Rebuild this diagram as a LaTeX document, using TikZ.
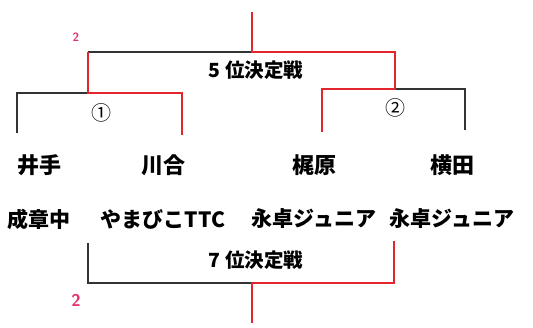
\documentclass[tikz,border=0pt]{standalone}
\usepackage{fontspec}
\newfontfamily\cjk{Noto Sans CJK JP}
\definecolor{winred}{HTML}{E3262E}
\definecolor{seedpink}{HTML}{E0356B}
\definecolor{loseblk}{HTML}{333333}
\tikzset{
  lose/.style={draw=loseblk, line width=1.6pt},
  win/.style={draw=winred, line width=2.4pt},
  player/.style={font=\cjk\bfseries\fontsize{22}{22}\selectfont},
  club/.style={font=\cjk\bfseries\fontsize{21}{21}\selectfont},
  round/.style={font=\cjk\bfseries\fontsize{19.5}{20}\selectfont},
  seed/.style={font=\sffamily\bfseries, text=seedpink}
}

\begin{document}
\begin{tikzpicture}[x=1pt,y=-1pt]
            \useasboundingbox (0,0) rectangle (533,327);

            % players and clubs
            \foreach \n/\nm/\tm/\x in {p1/井手/成章中/39, p2/川合/やまびこTTC/163, p3/梶原/永卓ジュニア/314, p4/横田/永卓ジュニア/452}{
                \node[player] (\n) at (\x,165) {\nm};
                \node[club] (c\n) at (\x,219) {\tm};
            }

            % corners of the brackets
            \coordinate (s5) at (252,12);  \coordinate (j5) at (252,52);
            \coordinate (a1) at (88,52);   \coordinate (a2) at (395,52);
            \coordinate (m1) at (88,93);   \coordinate (m1l) at (17,93);   \coordinate (m1r) at (182,93);
            \coordinate (m1la) at (17,133); \coordinate (m1rb) at (182,135);
            \coordinate (m2) at (395,89);  \coordinate (m2l) at (322,89);  \coordinate (m2r) at (465,89);
            \coordinate (m2la) at (322,132); \coordinate (m2rb) at (465,130);
            \coordinate (j7) at (252,283); \coordinate (s7) at (252,323);
            \coordinate (b1) at (88,283);  \coordinate (b1u) at (88,243);
            \coordinate (b2) at (394,283); \coordinate (b2u) at (394,241);

            \draw[lose] (m1la) -- (m1l) -- (m1);
            \draw[lose] (m2) -- (m2r) -- (m2rb);
            \draw[lose] (a1) -- (j5);
            \draw[win] (m1rb) -- (m1r) -- (m1) -- (a1);
            \draw[win] (s5) -- (j5) -- (a2) -- (m2) -- (m2l) -- (m2la);

            \draw[lose] (b1u) -- (b1) -- (j7);
            \draw[win] (s7) -- (j7) -- (b2) -- (b2u);

            % labels
            \node[round] (r5) at (256,70) {5 位決定戦};
            \node[round] (r7) at (256,260) {7 位決定戦};
            \node[font=\cjk\fontsize{20}{20}\selectfont] (g1) at (101,113) {①};
            \node[font=\cjk\fontsize{20}{20}\selectfont] (g2) at (395,108) {②};
            \node[seed, font=\sffamily\bfseries\fontsize{12}{12}\selectfont] (s1) at (76,37) {2};
            \node[seed, font=\sffamily\bfseries\fontsize{17}{17}\selectfont] (s2) at (76,300) {2};
\end{tikzpicture}
\end{document}
